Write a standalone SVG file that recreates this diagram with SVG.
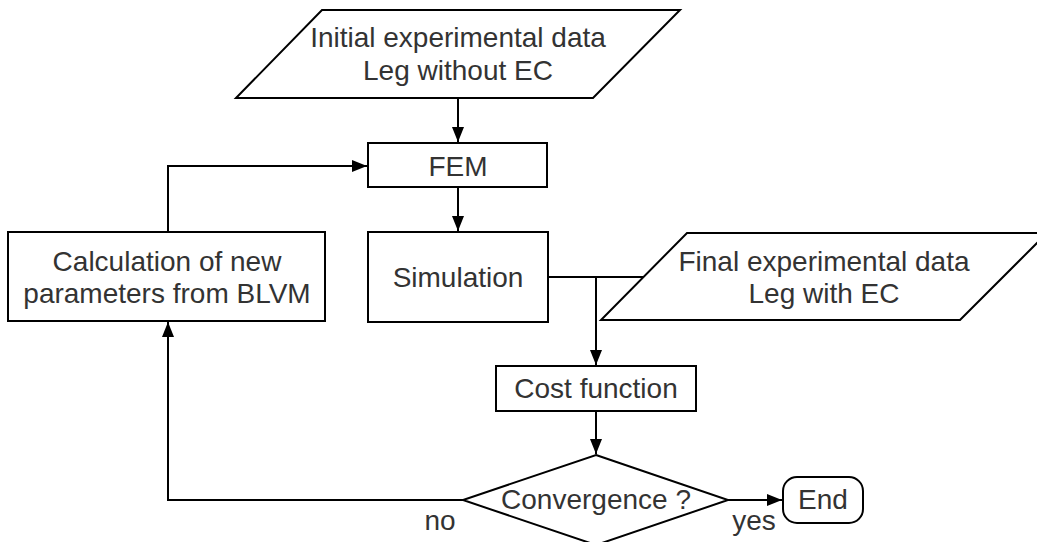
<svg xmlns="http://www.w3.org/2000/svg" width="1037" height="542" viewBox="0 0 1037 542">
<style>
.shape{fill:#fff;stroke:#000;stroke-width:2}
.conn{fill:none;stroke:#000;stroke-width:2}
text{font-family:"Liberation Sans",Arial,sans-serif;font-size:28px;fill:#333;text-anchor:middle}
</style>
<defs>
<marker id="arr" markerUnits="userSpaceOnUse" markerWidth="16" markerHeight="12" refX="15" refY="6" orient="auto">
<path d="M0,0 L15,6 L0,12 z" fill="#000"/>
</marker>
</defs>
<rect width="1037" height="542" fill="#fff"/>
<g id="connectors">
<path class="conn" d="M458,98 V142" marker-end="url(#arr)"/>
<path class="conn" d="M458,187 V231" marker-end="url(#arr)"/>
<path class="conn" d="M168,232 V166 H367" marker-end="url(#arr)"/>
<path class="conn" d="M548,277 H643"/>
<path class="conn" d="M596,277 V365" marker-end="url(#arr)"/>
<path class="conn" d="M596,411 V454" marker-end="url(#arr)"/>
<path class="conn" d="M463,500 H168 V322" marker-end="url(#arr)"/>
<path class="conn" d="M728,500 H782" marker-end="url(#arr)"/>
</g>
<g id="initial-data">
<polygon class="shape" points="322,10 680,10 593,98 236,98"/>
<text x="458" y="47">Initial experimental data</text>
<text x="458" y="80">Leg without EC</text>
</g>
<g id="fem">
<rect class="shape" x="368" y="143" width="179" height="44"/>
<text x="458" y="176">FEM</text>
</g>
<g id="simulation">
<rect class="shape" x="368" y="232" width="180" height="90"/>
<text x="458" y="287">Simulation</text>
</g>
<g id="calculation">
<rect class="shape" x="8" y="232" width="317" height="89"/>
<text x="167" y="271">Calculation of new</text>
<text x="167" y="303">parameters from BLVM</text>
</g>
<g id="final-data">
<polygon class="shape" points="687,233 1047,233 960,320 601,320"/>
<text x="824" y="271">Final experimental data</text>
<text x="824" y="303">Leg with EC</text>
</g>
<g id="cost-function">
<rect class="shape" x="496" y="366" width="200" height="45"/>
<text x="596" y="398">Cost function</text>
</g>
<g id="convergence">
<polygon class="shape" points="596,455 728,500 596,545 463,500"/>
<text x="596" y="509">Convergence ?</text>
</g>
<g id="end">
<rect class="shape" x="783" y="477" width="80" height="46" rx="14" ry="14"/>
<text x="823" y="509">End</text>
</g>
<g id="labels">
<text x="440" y="530">no</text>
<text x="754" y="530">yes</text>
</g>
</svg>
